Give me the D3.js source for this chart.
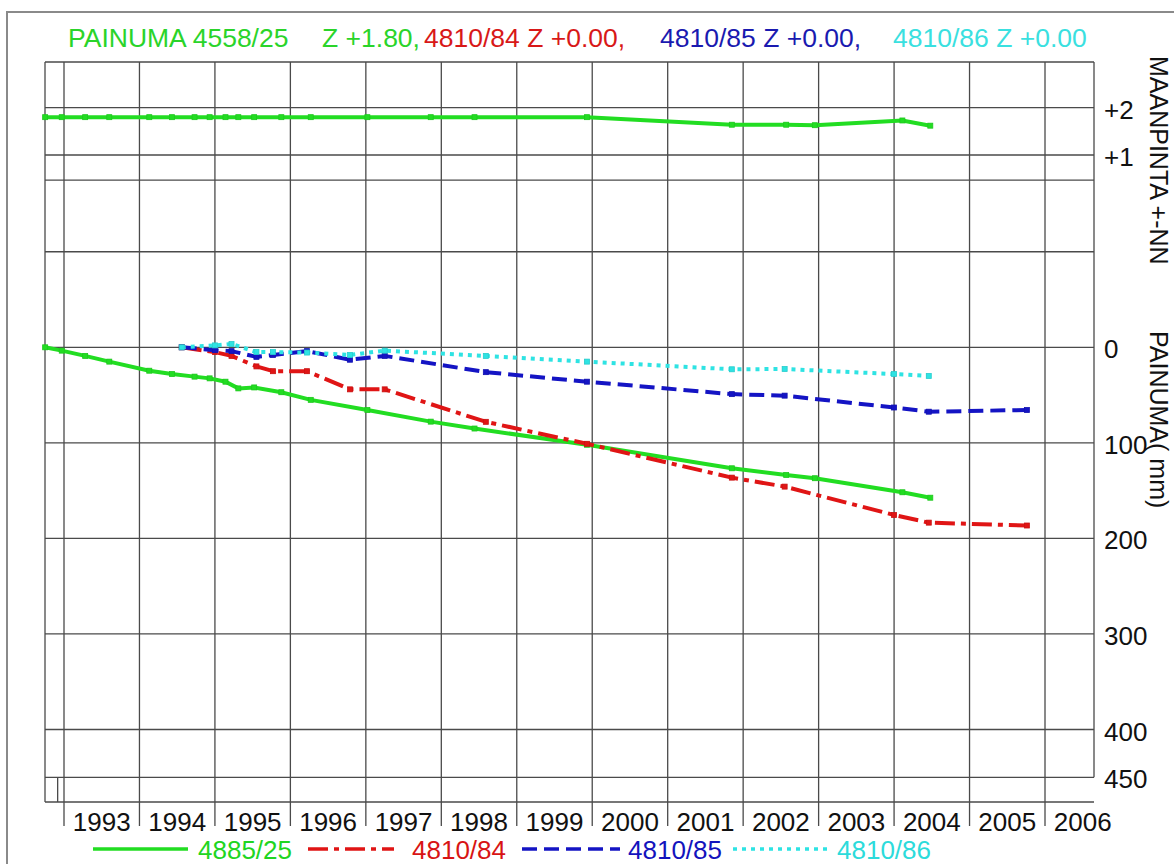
<!DOCTYPE html>
<html>
<head>
<meta charset="utf-8">
<script src="https://cdn.jsdelivr.net/npm/d3@7/dist/d3.min.js"></script>
<style>
body { margin: 0; background: #fff; }
text { font-family: "Liberation Sans", Arial, sans-serif; }
</style>
</head>
<body>
<script>
// years on the axis (labels sit in the middle of each year)
var years = [1993, 1994, 1995, 1996, 1997, 1998, 1999, 2000, 2001, 2002, 2003, 2004, 2005, 2006]

// measurement dates of benchmark 4558/25 (decimal years)
var greenDates = [1992.75, 1992.97, 1993.28, 1993.60, 1994.13, 1994.43, 1994.73, 1994.93, 1995.14, 1995.31,
                  1995.52, 1995.88, 1996.27, 1997.02, 1997.86, 1998.44, 1999.93, 2001.85, 2002.57, 2002.95,
                  2004.11, 2004.48]
// ground level +-NN (m)
var levelValues = [1.80, 1.80, 1.80, 1.80, 1.80, 1.80, 1.80, 1.80, 1.80, 1.80,
                   1.80, 1.80, 1.80, 1.80, 1.80, 1.80, 1.80, 1.64, 1.64, 1.63,
                   1.73, 1.62]
// settlement (mm)
var green25 = [0, 3.5, 9, 15, 24.5, 28, 30.7, 32.5, 36, 43,
               42, 47, 55, 65.6, 77.8, 85, 102, 126.6, 133.6, 137,
               151.7, 157.4]

var pointDates = [1994.56, 1995.00, 1995.22, 1995.55, 1995.77, 1996.22, 1996.79, 1997.25, 1998.59,
                  1999.93, 2001.85, 2002.55, 2004.00, 2004.46, 2005.76]
var red84  = [0, 5, 9, 20, 25, 25, 44, 44, 78, 101, 136.4, 145.8, 175.5, 183.5, 186.5]
var blue85 = [0, 3, 4, 10, 8, 4, 13, 9, 26, 36, 49, 50.6, 63, 67.4, 65.6]
var cyan86 = [0, -2, -3.5, 5, 5, 5.5, 8, 3.5, 9, 15, 23, 22.7, 28, 30]

var mmTicks = [0, 100, 200, 300, 400, 450]
var mTicks = [2, 1]
var extraGrid = [-175, -100]

var w = 1174, h = 864
var plotLeft = 45, plotRight = 1094, plotTop = 62, plotBottom = 802

var svg = d3.select("body").append("svg").attr("width", w).attr("height", h)

var x = d3.scaleLinear().domain([1993, 2006]).range([64, 1045])
var yMm = d3.scaleLinear().domain([0, 450]).range([347.3, 777.3])
var yM = d3.scaleLinear().domain([2, 1]).range([107.7, 155])

// outer frame
svg.append("path").attr("d", "M7,864 V12 H1174").attr("fill", "none").attr("stroke", "#8a8a8a").attr("stroke-width", 2)

// grid
var grid = svg.append("g").attr("stroke", "#4a4a4a").attr("stroke-width", 1.3)
grid.selectAll(".vy").data(years).enter().append("line")
  .attr("x1", d => x(d)).attr("x2", d => x(d))
  .attr("y1", plotTop).attr("y2", plotBottom + 24)
grid.selectAll(".hm").data(mTicks).enter().append("line")
  .attr("x1", plotLeft).attr("x2", plotRight).attr("y1", d => yM(d)).attr("y2", d => yM(d))
grid.selectAll(".hmm").data(mmTicks.concat(extraGrid)).enter().append("line")
  .attr("x1", plotLeft).attr("x2", plotRight).attr("y1", d => yMm(d)).attr("y2", d => yMm(d))
grid.append("line").attr("x1", plotLeft).attr("x2", plotRight).attr("y1", plotTop).attr("y2", plotTop)
grid.append("line").attr("x1", plotLeft).attr("x2", plotRight).attr("y1", plotBottom).attr("y2", plotBottom)
grid.append("line").attr("x1", plotLeft).attr("x2", plotLeft).attr("y1", plotTop).attr("y2", plotBottom)
grid.append("line").attr("x1", plotRight).attr("x2", plotRight).attr("y1", plotTop).attr("y2", yMm(450))
grid.append("line").attr("x1", x(1992.916)).attr("x2", x(1992.916)).attr("y1", yMm(450)).attr("y2", plotBottom)

// year labels
svg.selectAll(".yl").data(years).enter().append("text")
  .attr("x", d => x(d + 0.5)).attr("y", 831)
  .attr("text-anchor", "middle").attr("font-size", 26).attr("fill", "#111")
  .text(d => d)

// right axis labels
svg.selectAll(".ml").data(mTicks).enter().append("text")
  .attr("x", 1104).attr("y", d => yM(d) + 11).attr("font-size", 26).attr("fill", "#111")
  .text(d => "+" + d)
svg.selectAll(".mml").data(mmTicks).enter().append("text")
  .attr("x", 1104).attr("y", d => yMm(d) + 11).attr("font-size", 26).attr("fill", "#111")
  .text(d => d)

svg.append("text").attr("transform", "translate(1150,56) rotate(90)")
  .attr("font-size", 25).attr("fill", "#111").text("MAANPINTA +-NN")
svg.append("text").attr("transform", "translate(1150,331) rotate(90)")
  .attr("font-size", 25).attr("fill", "#111").text("PAINUMA( mm)")

// series
var green = "#22dd22", red = "#e01515", blue = "#1414c4", cyan = "#2ee3e3"

var series = [
  {dates: greenDates, vals: levelValues, y: yM, color: green, dash: null},
  {dates: greenDates, vals: green25, y: yMm, color: green, dash: null, label: "4885/25"},
  {dates: pointDates, vals: red84, y: yMm, color: red, dash: "20,6,5,6", label: "4810/84"},
  {dates: pointDates, vals: blue85, y: yMm, color: blue, dash: "15,7", label: "4810/85"},
  {dates: pointDates.slice(0, cyan86.length), vals: cyan86, y: yMm, color: cyan, dash: "4,5", label: "4810/86"}
]

series.forEach(function(s) {
  var pts = s.vals.map((v, i) => ({t: s.dates[i], v: v}))
  var line = d3.line().x(d => x(d.t)).y(d => s.y(d.v))
  svg.append("path").datum(pts)
    .attr("d", line).attr("fill", "none").attr("stroke", s.color)
    .attr("stroke-width", 4).attr("stroke-dasharray", s.dash)
  svg.append("g").selectAll("rect").data(pts).enter().append("rect")
    .attr("x", d => x(d.t) - 2.5).attr("y", d => s.y(d.v) - 2.5)
    .attr("width", 5).attr("height", 5)
    .attr("fill", s.color).attr("stroke", d3.color(s.color).darker(0.3)).attr("stroke-width", 0.8)
})

// title
var title = [
  {x: 68, text: "PAINUMA 4558/25", color: "#2ad42a"},
  {x: 322, text: "Z +1.80,", color: "#2ad42a"},
  {x: 424, text: "4810/84 Z +0.00,", color: "#d81818"},
  {x: 660, text: "4810/85 Z +0.00,", color: "#1a1ab0"},
  {x: 893, text: "4810/86 Z +0.00", color: "#3ae0e0"}
]
svg.selectAll(".tt").data(title).enter().append("text")
  .attr("x", d => d.x).attr("y", 47).attr("font-size", 26.5).attr("fill", d => d.color)
  .text(d => d.text)

// legend
var legendPos = [
  {x1: 93, x2: 188, tx: 198},
  {x1: 308, x2: 394, tx: 412},
  {x1: 522, x2: 620, tx: 628},
  {x1: 733, x2: 828, tx: 837}
]
var leg = series.slice(1)
leg.forEach(function(s, i) {
  var p = legendPos[i]
  svg.append("line").attr("x1", p.x1).attr("x2", p.x2).attr("y1", 849).attr("y2", 849)
    .attr("stroke", s.color).attr("stroke-width", 3.5).attr("stroke-dasharray", s.dash)
  svg.append("text").attr("x", p.tx).attr("y", 859).attr("font-size", 26)
    .attr("fill", d3.color(s.color).darker(0.1)).text(s.label)
})
</script>
</body>
</html>
